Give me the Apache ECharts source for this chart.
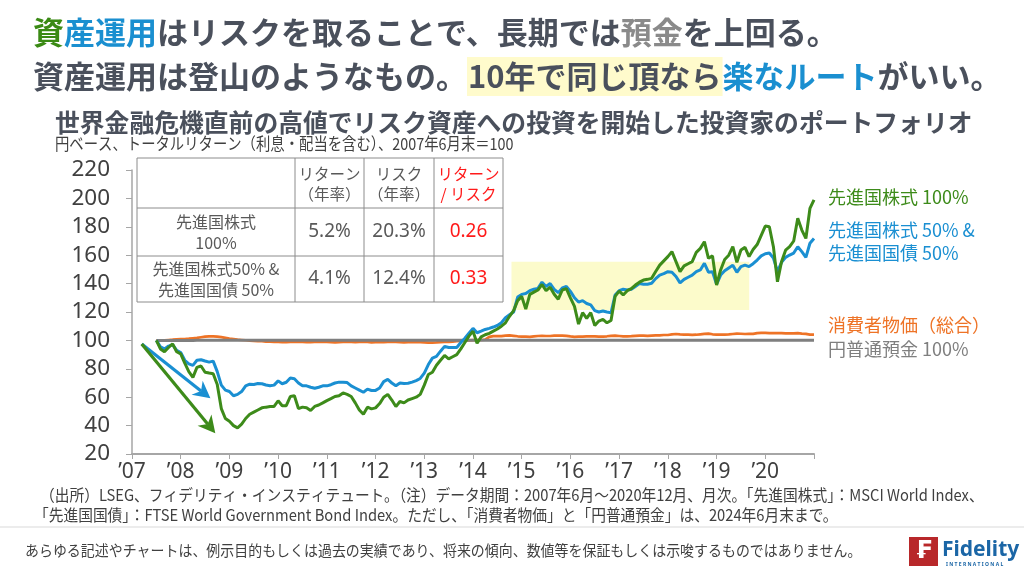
<!DOCTYPE html>
<html><head><meta charset="utf-8">
<script src="https://cdn.jsdelivr.net/npm/echarts@6/dist/echarts.min.js"></script>
<style>html,body{margin:0;padding:0;background:#fff}#c{width:1024px;height:576px}</style>
</head><body><div id="c"></div>
<script>
// ---- DATA (monthly, month-end, from 2007-06 to 2020-12) ----
const startYear = 2007, startMonth = 6;
const yearLabels = ["’07","’08","’09","’10","’11","’12","’13","’14","’15","’16","’17","’18","’19","’20"];

// 先進国株式 100%
const equity100 = [
  100, 94, 92, 95, 97.6, 92, 90.5,                                   // 2007 Jun-Dec
  84, 78, 74, 81, 82, 77.6, 77, 76.5, 69, 52, 45, 43,                 // 2008
  40, 38.4, 41, 45, 48, 49.5, 51, 52.5, 53, 53.4, 53.5, 57.5,         // 2009
  54, 54, 60.5, 61, 52, 53, 52.5, 50.6, 53.5, 54.5, 56, 57.6,         // 2010
  59, 60.5, 61, 63, 62, 60.5, 56, 51, 48, 53, 51.8, 52.5,             // 2011
  55.5, 60, 62, 58, 53.4, 57, 56, 58, 59, 60, 62, 68.5,               // 2012
  76, 77.6, 82.5, 86, 89.4, 87, 88.5, 90, 94, 98.5, 103, 106.5,       // 2013
  98, 102.5, 104, 105, 106.5, 108, 110, 112.4, 117, 121, 128, 131,    // 2014
  122, 132.4, 134, 135.5, 139.4, 135, 137.5, 132.5, 129, 135.5, 136.5, 130, // 2015
  124, 111.5, 119.5, 115.5, 119.5, 110.5, 113.6, 114.8, 112.4, 114, 131, 134.7, // 2016
  132, 135, 136.5, 139, 141, 142.5, 143, 143.7, 148.5, 153, 156, 159, // 2017
  162.5, 155.5, 148.4, 152.5, 154, 155.5, 162, 164.8, 169.5, 157.8, 159.5, 139, // 2018
  149.6, 157, 160, 166, 155, 163.7, 165.5, 159, 164, 167.5, 174, 180.5, // 2019
  180, 166, 141.3, 155.4, 163.5, 166, 170, 186, 177.7, 171.8, 192.9, 199 // 2020
];

// 先進国株式 50% & 先進国国債 50%
const balanced5050 = [
  100, 95.5, 94, 96, 97, 93, 91.5,                                    // 2007
  86, 83.5, 82.4, 86, 86.4, 85.5, 84.7, 85.4, 78, 68.5, 65, 64,       // 2008
  61, 62, 64, 68, 69.2, 69, 69.6, 69.5, 68.6, 68, 68.5, 71.5,         // 2009
  69.5, 70.5, 73.5, 73, 70, 68, 68, 67, 66.3, 67, 68, 68,             // 2010
  68.8, 70, 70.6, 70.6, 70.3, 68, 66.5, 65, 63.5, 65.7, 64.7, 64.8,   // 2011
  66.5, 71, 72.5, 70, 68, 70, 69.6, 69.8, 70.6, 71.7, 73.2, 77,       // 2012
  83, 87.5, 88.7, 92.4, 95.8, 95, 95, 95, 98.5, 101.5, 105, 108.5,    // 2013
  105.4, 106.5, 107.7, 108.5, 109.4, 110.5, 112.5, 116, 118, 120, 130.5, 132.4, // 2014
  133, 135, 136, 136.6, 141, 138, 140, 136, 133.6, 137, 138, 134.5,   // 2015
  130, 127, 128, 126, 125, 121, 120, 120.7, 120, 119.5, 132, 135,     // 2016
  136, 135.5, 136, 138, 140, 139.5, 139.5, 140.2, 143.5, 146, 147, 148.4, // 2017
  148, 145, 140.5, 143, 144.5, 146, 148.4, 149.6, 154.3, 148, 148.4, 139.5, // 2018
  146, 149, 151, 153, 148, 151.9, 153, 152, 154, 156.6, 159.5, 161,   // 2019
  161.5, 158, 148.4, 155, 158.5, 160.1, 161.5, 166, 162.5, 158.5, 168.4, 171.8 // 2020
];

// 消費者物価（総合）
const cpi = [
  100, 100, 100.1, 100.3, 100.5, 100.8, 101,
  101, 101.2, 101.5, 101.8, 102.2, 102.6, 102.8, 102.8, 102.6, 102.3, 101.8, 101.3,
  100.9, 100.5, 100.3, 100.1, 99.9, 99.6, 99.4, 99.4, 99.2, 99.1, 99, 98.9,
  98.8, 98.8, 98.9, 98.9, 98.9, 98.9, 98.8, 98.8, 98.9, 99.1, 98.9, 98.9,
  98.7, 98.6, 98.8, 98.9, 98.9, 98.9, 98.8, 98.9, 98.9, 98.9, 98.6, 98.7,
  98.8, 98.7, 99, 99.1, 99, 98.8, 98.6, 98.7, 98.8, 98.8, 98.7, 98.6,
  98.5, 98.5, 98.6, 98.8, 98.9, 99, 99.2, 99.5, 99.7, 99.9, 100, 100.2,
  100.2, 100.3, 100.6, 102.5, 103, 103, 103, 103.3, 103.5, 103.2, 102.9, 102.7,
  102.6, 102.5, 102.8, 103.1, 103.2, 103.1, 103.1, 103.3, 103.4, 103.4, 103.2, 102.8,
  102.5, 102.6, 102.7, 102.9, 102.9, 102.8, 102.7, 102.7, 102.9, 103.2, 103.3, 103.1,
  102.9, 102.9, 103, 103.2, 103.3, 103.3, 103.2, 103.4, 103.5, 103.6, 103.8, 103.8,
  104.2, 104.5, 104.2, 104.1, 104, 103.9, 104, 104.3, 104.6, 104.8, 104.3, 104.1,
  104, 104, 104.2, 104.5, 104.8, 104.7, 104.5, 104.6, 104.6, 105.1, 105.3, 105.3,
  105.1, 105.1, 105.1, 105.1, 105, 104.9, 105, 105.1, 104.8, 104.6, 104.1, 104
];

// 円普通預金 100%
const deposit = [
  100, 100, 100, 100, 100, 100, 100,
  100, 100, 100, 100.1, 100.1, 100.1, 100.1, 100.1, 100.1, 100.1, 100.1, 100.1,
  100.1, 100.1, 100.1, 100.1, 100.1, 100.1, 100.1, 100.1, 100.1, 100.1, 100.1, 100.1,
  100.1, 100.1, 100.1, 100.1, 100.1, 100.1, 100.1, 100.1, 100.1, 100.1, 100.1, 100.1,
  100.1, 100.1, 100.1, 100.1, 100.1, 100.1, 100.1, 100.1, 100.1, 100.1, 100.1, 100.1,
  100.1, 100.1, 100.1, 100.1, 100.1, 100.1, 100.1, 100.1, 100.1, 100.1, 100.1, 100.1,
  100.1, 100.1, 100.1, 100.1, 100.1, 100.1, 100.1, 100.1, 100.1, 100.1, 100.1, 100.1,
  100.1, 100.1, 100.1, 100.1, 100.1, 100.1, 100.1, 100.1, 100.1, 100.1, 100.1, 100.1,
  100.1, 100.1, 100.1, 100.1, 100.1, 100.1, 100.1, 100.1, 100.1, 100.1, 100.1, 100.1,
  100.1, 100.1, 100.1, 100.1, 100.1, 100.1, 100.1, 100.1, 100.1, 100.1, 100.1, 100.1,
  100.1, 100.1, 100.1, 100.1, 100.1, 100.1, 100.1, 100.1, 100.1, 100.1, 100.1, 100.1,
  100.1, 100.1, 100.1, 100.1, 100.1, 100.1, 100.1, 100.1, 100.1, 100.1, 100.1, 100.1,
  100.1, 100.1, 100.1, 100.1, 100.1, 100.1, 100.1, 100.1, 100.1, 100.1, 100.1, 100.1,
  100.1, 100.1, 100.1, 100.1, 100.1, 100.1, 100.1, 100.1, 100.1, 100.1, 100.1, 100.1
];

// table
const tableHeaders = [["リターン","（年率）"], ["リスク","（年率）"], ["リターン","/ リスク"]];
const tableRowNames = [["先進国株式","100%"], ["先進国株式50% &","先進国国債 50%"]];
const tableReturns = ["5.2%", "4.1%"];
const tableRisks = ["20.3%", "12.4%"];
const tableRatios = ["0.26", "0.33"];

// legend labels
const seriesNames = ["先進国株式 100%", "先進国株式 50% &\n先進国国債 50%", "消費者物価（総合）", "円普通預金 100%"];

// ---- helpers ----
const monthEnd = i => { const m = startMonth + i; return startYear + m / 12; };
const toPairs = arr => arr.map((v, i) => [monthEnd(i), v]);

const C_GREEN = '#3d8b1a', C_BLUE = '#1a8fd2', C_ORANGE = '#ee7326', C_GRAY = '#7f7f7f';
const C_TEXT = '#4a505c', C_DARK = '#404040';
const JP = "'Noto Sans CJK JP', 'Noto Sans', sans-serif";

const chart = echarts.init(document.getElementById('c'), null, {renderer: 'canvas'});

const gridL = 132, gridR = 210, gridT = 170, gridB = 122;

const option = {
  animation: false,
  backgroundColor: '#ffffff',
  title: [
    {
      left: 28, top: 12,
      text: '{g|資}{b|産運用}{d|はリスクを取ることで、長期では}{l|預金}{d|を上回る。}',
      textStyle: { rich: {
        g: {color: '#3a8a14', fontSize: 31, fontFamily: JP, fontWeight: 'bold'},
        b: {color: '#1a8fd0', fontSize: 31, fontFamily: JP, fontWeight: 'bold'},
        d: {color: C_TEXT, fontSize: 31, fontFamily: JP, fontWeight: 'bold'},
        l: {color: '#8a8a8a', fontSize: 31, fontFamily: JP, fontWeight: 'bold'}
      }}
    },
    {
      left: 28, top: 52,
      text: '{d|資産運用は登山のようなもの。}{h|10年で同じ頂なら}{b|楽なルート}{d|がいい。}',
      textStyle: { rich: {
        d: {color: C_TEXT, fontSize: 31, fontFamily: JP, fontWeight: 'bold'},
        h: {color: C_TEXT, fontSize: 31, fontFamily: JP, fontWeight: 'bold', backgroundColor: '#fffbcc', padding: [4, 1, 4, 1]},
        b: {color: '#1a8fd0', fontSize: 31, fontFamily: JP, fontWeight: 'bold'}
      }}
    },
    {
      left: 50, top: 105,
      text: '世界金融危機直前の高値でリスク資産への投資を開始した投資家のポートフォリオ',
      textStyle: {color: C_TEXT, fontSize: 24.8, fontFamily: JP, fontWeight: 'bold'}
    }
  ],
  grid: {left: gridL, right: gridR, top: gridT, bottom: gridB, containLabel: false},
  xAxis: {
    type: 'value', min: 2007, max: 2021, interval: 1,
    axisLine: {show: true, lineStyle: {color: '#a6a6a6', width: 2}},
    axisTick: {show: true, length: 5, lineStyle: {color: '#a6a6a6', width: 1}},
    splitLine: {show: false},
    axisLabel: {
      color: C_DARK, fontSize: 21, fontFamily: "'Noto Sans', sans-serif", margin: 8,
      formatter: v => yearLabels[Math.round(v) - startYear] || ''
    }
  },
  yAxis: {
    type: 'value', min: 20, max: 220, interval: 20,
    axisLine: {show: true, lineStyle: {color: '#a6a6a6', width: 1.5}},
    axisTick: {show: true, length: 6, lineStyle: {color: '#a6a6a6'}},
    splitLine: {show: false},
    axisLabel: {color: C_DARK, fontSize: 22.5, fontFamily: "'Noto Sans', sans-serif", margin: 22}
  },
  series: [
    {
      name: seriesNames[2], type: 'line', data: toPairs(cpi), showSymbol: false,
      lineStyle: {color: C_ORANGE, width: 2.7}, itemStyle: {color: C_ORANGE}, z: 2,
      markArea: {
        silent: true,
        itemStyle: {color: '#fcfbcb', opacity: 1},
        data: [[{coord: [2014.79, 155.4]}, {coord: [2019.67, 121.4]}]]
      }
    },
    {
      name: seriesNames[3], type: 'line', data: toPairs(deposit), showSymbol: false,
      lineStyle: {color: C_GRAY, width: 3}, itemStyle: {color: C_GRAY}, z: 3
    },
    {
      name: seriesNames[1], type: 'line', data: toPairs(balanced5050), showSymbol: false,
      lineStyle: {color: C_BLUE, width: 3}, itemStyle: {color: C_BLUE}, z: 4
    },
    {
      name: seriesNames[0], type: 'line', data: toPairs(equity100), showSymbol: false,
      lineStyle: {color: C_GREEN, width: 3}, itemStyle: {color: C_GREEN}, z: 5
    }
  ]
};
chart.setOption(option);

// ---- graphic overlays: table, labels, arrows, footnotes, logo ----
const g = [];
function txt(x, y, text, size, color, align, weight, font, sx) {
  return {type: 'text', x: x, y: y, z: 60, scaleX: sx || 1, style: {text: text, fill: color, fontSize: size, fontFamily: font || JP, fontWeight: weight || 'normal', align: align || 'center', verticalAlign: 'middle'}};
}
// subtitle (condensed like the reference)
g.push(txt(55, 144, '円ベース、トータルリターン（利息・配当を含む）、2007年6月末＝100', 16.5, C_DARK, 'left', 'normal', JP, 0.87));
// table
const cx = [137, 295, 364, 434, 503];
const ry = [158, 208, 256, 302];
g.push({type: 'rect', shape: {x: cx[0], y: ry[0], width: cx[4]-cx[0], height: ry[3]-ry[0]}, style: {fill: '#fff', stroke: '#8c8c8c', lineWidth: 1}, z: 50});
for (let i = 1; i < 4; i++) g.push({type: 'line', shape: {x1: cx[i], y1: ry[0], x2: cx[i], y2: ry[3]}, style: {stroke: '#8c8c8c', lineWidth: 1}, z: 51});
for (let j = 1; j < 3; j++) g.push({type: 'line', shape: {x1: cx[0], y1: ry[j], x2: cx[4], y2: ry[j]}, style: {stroke: '#8c8c8c', lineWidth: 1}, z: 51});
const TT = '#595959';
tableHeaders.forEach((h, k) => {
  const col = (cx[k+1] + cx[k+2]) / 2;
  const colr = k === 2 ? '#ff1a1a' : TT;
  g.push(txt(col, 174, h[0], 15.5, colr));
  g.push(txt(col, 194, h[1], 15.5, colr));
});
tableRowNames.forEach((r, k) => {
  const yc = (ry[k+1] + ry[k+2]) / 2;
  g.push(txt((cx[0]+cx[1])/2, yc - 10, r[0], 16, TT));
  g.push(txt((cx[0]+cx[1])/2, yc + 11, r[1], 16, TT));
  g.push(txt((cx[1]+cx[2])/2, yc, tableReturns[k], 19, TT, 'center', 'normal', "'Noto Sans', sans-serif"));
  g.push(txt((cx[2]+cx[3])/2, yc, tableRisks[k], 19, TT, 'center', 'normal', "'Noto Sans', sans-serif"));
  g.push(txt((cx[3]+cx[4])/2, yc, tableRatios[k], 19, '#ff1a1a', 'center', 'normal', "'Noto Sans', sans-serif"));
});
// right labels
const lx = 828;
g.push(txt(lx, 197, seriesNames[0], 18, C_GREEN, 'left'));
const bl = seriesNames[1].split('\n');
g.push(txt(lx, 230, bl[0], 18, C_BLUE, 'left'));
g.push(txt(lx, 253, bl[1], 18, C_BLUE, 'left'));
g.push(txt(lx, 325, seriesNames[2], 18, C_ORANGE, 'left'));
g.push(txt(lx, 349, seriesNames[3], 18, C_GRAY, 'left'));
// arrows (defined in data coordinates)
function arrow(d0, d1, color) {
  const p0 = chart.convertToPixel({gridIndex: 0}, d0);
  const p1 = chart.convertToPixel({gridIndex: 0}, d1);
  const dx = p1[0]-p0[0], dy = p1[1]-p0[1], L = Math.hypot(dx, dy);
  const ux = dx/L, uy = dy/L, head = 17, hw = 9;
  const bx = p1[0]-ux*head, by = p1[1]-uy*head, px = -uy, py = ux;
  const nx = p1[0]-ux*(head-5), ny = p1[1]-uy*(head-5);
  return [
    {type: 'line', z: 40, shape: {x1: p0[0], y1: p0[1], x2: nx, y2: ny}, style: {stroke: color, lineWidth: 3.2}},
    {type: 'polygon', z: 40, shape: {points: [[p1[0], p1[1]], [bx+px*hw, by+py*hw], [nx, ny], [bx-px*hw, by-py*hw]]}, style: {fill: color}}
  ];
}
g.push(...arrow([2007.2, 97.5], [2008.61, 59.2], C_BLUE));
g.push(...arrow([2007.2, 97.5], [2008.71, 34.6], C_GREEN));
// footnotes
g.push(txt(40, 495, '（出所）LSEG、フィデリティ・インスティテュート。（注）データ期間：2007年6月～2020年12月、月次。「先進国株式」：MSCI World Index、', 16, C_DARK, 'left', 'normal', JP, 0.92));
g.push(txt(34, 515, '「先進国国債」：FTSE World Government Bond Index。ただし、「消費者物価」と「円普通預金」は、2024年6月末まで。', 16, C_DARK, 'left', 'normal', JP, 0.92));
g.push({type: 'line', z: 10, shape: {x1: 0, y1: 527, x2: 1024, y2: 527}, style: {stroke: '#d9d9d9', lineWidth: 1}});
g.push(txt(25, 550, 'あらゆる記述やチャートは、例示目的もしくは過去の実績であり、将来の傾向、数値等を保証もしくは示唆するものではありません。', 15, C_DARK, 'left', 'normal', JP, 0.93));
// logo
g.push({type: 'rect', z: 60, shape: {x: 909, y: 537, width: 29, height: 29}, style: {fill: '#b8282a'}});
g.push(txt(923.5, 552, '₣', 24, '#ffffff', 'center', 'bold', "'DejaVu Sans', sans-serif"));
g.push(txt(942, 550, 'Fidelity', 21, '#1b66a6', 'left', 'bold', "'Noto Sans', sans-serif"));
g.push(txt(946, 565, 'I N T E R N A T I O N A L', 5, '#1b66a6', 'left', 'bold', "'Noto Sans', sans-serif"));

chart.setOption({graphic: {elements: g}});
</script>
</body></html>
